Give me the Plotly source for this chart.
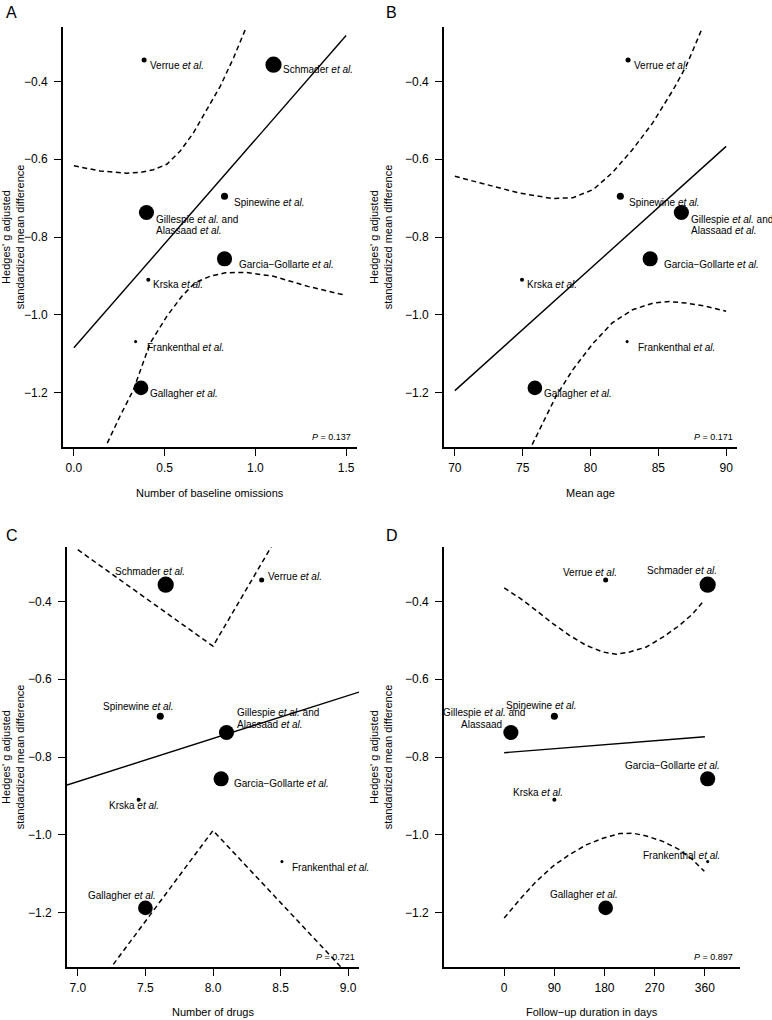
import math
import plotly.graph_objects as go

# ---------------- data ----------------
studies = ["Verrue", "Schmader", "Spinewine", "Gillespie", "Garcia", "Krska", "Frankenthal", "Gallagher"]
smd = [-0.345, -0.357, -0.695, -0.737, -0.856, -0.910, -1.069, -1.188]
weights = [2.5, 25.6, 4.9, 22.5, 22.5, 1.6, 0.9, 21.0]   # relative study weight (marker area)

baseline_omissions = [0.387, 1.10, 0.83, 0.40, 0.83, 0.41, 0.34, 0.37]
mean_age = [82.77, None, 82.2, 86.7, 84.4, 74.95, 82.7, 75.9]
n_drugs = [8.36, 7.65, 7.61, 8.10, 8.06, 7.45, 8.51, 7.50]
followup_days = [182, 365, 90, 12, 365, 90, 365, 182]

p_values = ["0.137", "0.171", "0.721", "0.897"]

# fitted meta-regression lines
fitA_x = [0.0, 1.5];   fitA_y = [-1.085, -0.282]
fitB_x = [70, 90];     fitB_y = [-1.195, -0.567]
fitC_x = [6.92, 9.08]; fitC_y = [-0.872, -0.633]
fitD_x = [0, 360];     fitD_y = [-0.789, -0.748]

# 95% confidence curves
ciA_up_x = [0.0, 0.144, 0.29, 0.365, 0.438, 0.512, 0.586, 0.659, 0.733, 0.807, 0.88, 0.945]
ciA_up_y = [-0.617, -0.630, -0.636, -0.634, -0.627, -0.613, -0.579, -0.532, -0.472, -0.412, -0.339, -0.266]
ciA_lo_x = [0.184, 0.254, 0.328, 0.42, 0.512, 0.594, 0.667, 0.75, 0.834, 0.944, 1.10, 1.29, 1.46, 1.5]
ciA_lo_y = [-1.330, -1.261, -1.193, -1.073, -1.004, -0.953, -0.918, -0.901, -0.892, -0.891, -0.901, -0.927, -0.946, -0.950]

ciB_up_x = [70.0, 72.3, 74.75, 77.2, 78.7, 80.2, 81.6, 83.1, 84.6, 86.1, 87.05, 88.2]
ciB_up_y = [-0.644, -0.665, -0.687, -0.701, -0.699, -0.678, -0.635, -0.575, -0.506, -0.421, -0.361, -0.266]
ciB_lo_x = [75.7, 76.5, 77.45, 78.7, 80.2, 81.6, 83.1, 84.6, 85.8, 87.05, 88.5, 90.0]
ciB_lo_y = [-1.334, -1.279, -1.210, -1.141, -1.073, -1.021, -0.987, -0.970, -0.966, -0.970, -0.978, -0.991]

ciC_up_x = [7.0, 8.0, 9.0]
ciC_up_y = [-0.267, -0.515, 0.078]
ciC_lo_x = [7.0, 8.0, 9.0]
ciC_lo_y = [-1.456, -0.989, -1.360]

ciD_up_x = [0, 27.5, 57.4, 87.3, 117, 147, 177, 201, 225, 255, 284.5, 314, 338, 359]
ciD_up_y = [-0.365, -0.391, -0.423, -0.457, -0.487, -0.513, -0.530, -0.536, -0.530, -0.517, -0.492, -0.462, -0.432, -0.397]
ciD_lo_x = [0, 27.5, 57.4, 87.3, 117, 147, 177, 207, 231, 255, 284.5, 314, 338, 359]
ciD_lo_y = [-1.214, -1.167, -1.120, -1.081, -1.051, -1.026, -1.009, -0.997, -0.996, -1.003, -1.017, -1.038, -1.064, -1.094]

y_tickvals = [-1.2, -1.0, -0.8, -0.6, -0.4]
y_ticktext = ["\u22121.2", "\u22121.0", "\u22120.8", "\u22120.6", "\u22120.4"]

xA_ticks = [0.0, 0.5, 1.0, 1.5];        xA_text = ["0.0", "0.5", "1.0", "1.5"]
xB_ticks = [70, 75, 80, 85, 90];        xB_text = ["70", "75", "80", "85", "90"]
xC_ticks = [7.0, 7.5, 8.0, 8.5, 9.0];   xC_text = ["7.0", "7.5", "8.0", "8.5", "9.0"]
xD_ticks = [0, 90, 180, 270, 360];      xD_text = ["0", "90", "180", "270", "360"]

EA = " <i>et al.</i>"
label_lines = {
    "Verrue": ["Verrue" + EA],
    "Schmader": ["Schmader" + EA],
    "Spinewine": ["Spinewine" + EA],
    "Gillespie": ["Gillespie" + EA + " and", "Alassaad" + EA],
    "Garcia": ["Garcia\u2212Gollarte" + EA],
    "Krska": ["Krska" + EA],
    "Frankenthal": ["Frankenthal" + EA],
    "Gallagher": ["Gallagher" + EA],
}
label_lines_D = dict(label_lines)
label_lines_D["Gillespie"] = ["Gillespie" + EA + " and", "Alassaad"]

# ---------------- layout / style ----------------
W, H = 772, 1020
FONT = "Liberation Sans, Arial, Helvetica, sans-serif"

# label placement: (anchor, dx px, dy px downward) per text line
off_right = {
    "Verrue": [("left", 6, 5)], "Schmader": [("left", 9, 5)], "Spinewine": [("left", 9, 6)],
    "Gillespie": [("left", 10, 7), ("left", 10, 18)], "Garcia": [("left", 14, 6)],
    "Krska": [("left", 5, 5)], "Frankenthal": [("left", 11, 6)], "Gallagher": [("left", 9, 6)],
}
off_C = {
    "Verrue": [("left", 6, -4)], "Schmader": [("right", 19, -13)], "Spinewine": [("right", 14, -10)],
    "Gillespie": [("left", 10, -20), ("left", 10, -8)], "Garcia": [("left", 13, 5)],
    "Krska": [("center", -5, 6)], "Frankenthal": [("left", 10, 6)], "Gallagher": [("right", 11, -12)],
}
off_D = {
    "Verrue": [("right", 11, -8)], "Schmader": [("right", 9, -14)], "Spinewine": [("right", 23, -11)],
    "Gillespie": [("right", 14, -20), ("right", -9, -8)], "Garcia": [("right", 12, -13)],
    "Krska": [("right", 9, -7)], "Frankenthal": [("right", 12, -6)], "Gallagher": [("right", 12, -13)],
}

panels = [
    dict(letter="A", xv=baseline_omissions, fx=fitA_x, fy=fitA_y,
         cis=[(ciA_up_x, ciA_up_y), (ciA_lo_x, ciA_lo_y)], xr=[-0.06, 1.56],
         tv=xA_ticks, tt=xA_text, title="Number of baseline omissions", p=p_values[0],
         px=(63, 357), py=(27, 447), off=off_right, labels=label_lines, lpos=(6, 4), pshift=(-6, 10),
         tshift=-46),
    dict(letter="B", xv=mean_age, fx=fitB_x, fy=fitB_y,
         cis=[(ciB_up_x, ciB_up_y), (ciB_lo_x, ciB_lo_y)], xr=[69.2, 90.8],
         tv=xB_ticks, tt=xB_text, title="Mean age", p=p_values[1],
         px=(444, 737), py=(27, 447), off=off_right, labels=label_lines, lpos=(386, 4), pshift=(-4, 10),
         tshift=-46),
    dict(letter="C", xv=n_drugs, fx=fitC_x, fy=fitC_y,
         cis=[(ciC_up_x, ciC_up_y), (ciC_lo_x, ciC_lo_y)], xr=[6.92, 9.08],
         tv=xC_ticks, tt=xC_text, title="Number of drugs", p=p_values[2],
         px=(67, 359), py=(547, 967), off=off_C, labels=label_lines, lpos=(6, 527), pshift=(-4, 10),
         tshift=-45),
    dict(letter="D", xv=followup_days, fx=fitD_x, fy=fitD_y,
         cis=[(ciD_up_x, ciD_up_y), (ciD_lo_x, ciD_lo_y)], xr=[-108, 423],
         tv=xD_ticks, tt=xD_text, title="Follow\u2212up duration in days", p=p_values[3],
         px=(444, 740), py=(547, 967), off=off_D, labels=label_lines_D, lpos=(386, 527), pshift=(-7, 10),
         tshift=-45),
]

fig = go.Figure()
annotations = []
layout_axes = {}

for i, pn in enumerate(panels, start=1):
    xa = "x" if i == 1 else f"x{i}"
    ya = "y" if i == 1 else f"y{i}"
    for cx, cy in pn["cis"]:
        fig.add_trace(go.Scatter(x=cx, y=cy, mode="lines", xaxis=xa, yaxis=ya,
                                 line=dict(color="black", width=1.5, dash="5px,3.5px"),
                                 hoverinfo="skip", showlegend=False))
    fig.add_trace(go.Scatter(x=pn["fx"], y=pn["fy"], mode="lines", xaxis=xa, yaxis=ya,
                             line=dict(color="black", width=1.4), hoverinfo="skip", showlegend=False))
    xs, ys, ss, names = [], [], [], []
    for s, xv, yv, w in zip(studies, pn["xv"], smd, weights):
        if xv is None:
            continue
        xs.append(xv); ys.append(yv); ss.append(3.2 * math.sqrt(w)); names.append(s)
    fig.add_trace(go.Scatter(x=xs, y=ys, mode="markers", xaxis=xa, yaxis=ya,
                             marker=dict(color="black", size=ss, opacity=1, line=dict(width=0)),
                             text=names, hoverinfo="text", showlegend=False))
    for s, xv, yv in zip(names, xs, ys):
        for line, (anc, dx, dy) in zip(pn["labels"][s], pn["off"][s]):
            annotations.append(dict(x=xv, y=yv, xref=xa, yref=ya, text=line, showarrow=False,
                                    xanchor=anc, yanchor="middle", xshift=dx, yshift=-dy,
                                    borderpad=0, borderwidth=0,
                                    font=dict(family=FONT, size=10, color="black")))
    # P value
    annotations.append(dict(x=1, y=0, xref=f"{xa} domain", yref=f"{ya} domain",
                            text=f"<i>P</i> = {pn['p']}", showarrow=False,
                            xanchor="right", yanchor="middle",
                            xshift=pn["pshift"][0], yshift=pn["pshift"][1],
                            borderpad=0, borderwidth=0,
                            font=dict(family=FONT, size=9, color="black")))
    # x-axis title
    annotations.append(dict(x=0.5, y=0, xref=f"{xa} domain", yref=f"{ya} domain",
                            text=pn["title"], showarrow=False, xanchor="center", yanchor="middle",
                            yshift=pn["tshift"], borderpad=0, borderwidth=0,
                            font=dict(family=FONT, size=11, color="black")))
    # panel letter
    annotations.append(dict(x=pn["lpos"][0] / W, y=1 - pn["lpos"][1] / H, xref="paper", yref="paper",
                            text=pn["letter"], showarrow=False, xanchor="left", yanchor="top",
                            borderpad=0, borderwidth=0,
                            font=dict(family=FONT, size=16, color="black")))

    common = dict(showline=True, linecolor="black", linewidth=1.6, ticks="outside",
                  ticklen=7, tickwidth=1.4, tickcolor="black", showgrid=False, zeroline=False,
                  automargin=False, tickfont=dict(family=FONT, size=12, color="black"))
    layout_axes["xaxis" if i == 1 else f"xaxis{i}"] = dict(
        common, domain=[pn["px"][0] / W, pn["px"][1] / W], range=pn["xr"], anchor=ya,
        tickmode="array", tickvals=pn["tv"], ticktext=pn["tt"], ticklabelstandoff=2)
    layout_axes["yaxis" if i == 1 else f"yaxis{i}"] = dict(
        common, domain=[1 - pn["py"][1] / H, 1 - pn["py"][0] / H], range=[-1.34, -0.26], anchor=xa,
        tickmode="array", tickvals=y_tickvals, ticktext=y_ticktext, ticklabelstandoff=4,
        title=dict(text="Hedges' g adjusted<br>standardized mean difference", standoff=10,
                   font=dict(family=FONT, size=11, color="black")))

fig.update_layout(width=W, height=H, margin=dict(l=0, r=0, t=0, b=0),
                  paper_bgcolor="white", plot_bgcolor="white",
                  font=dict(family=FONT, color="black"),
                  annotations=annotations, **layout_axes)

fig.write_html("out.html", config={"displayModeBar": False},
               post_script="document.body.style.margin='0px';")
